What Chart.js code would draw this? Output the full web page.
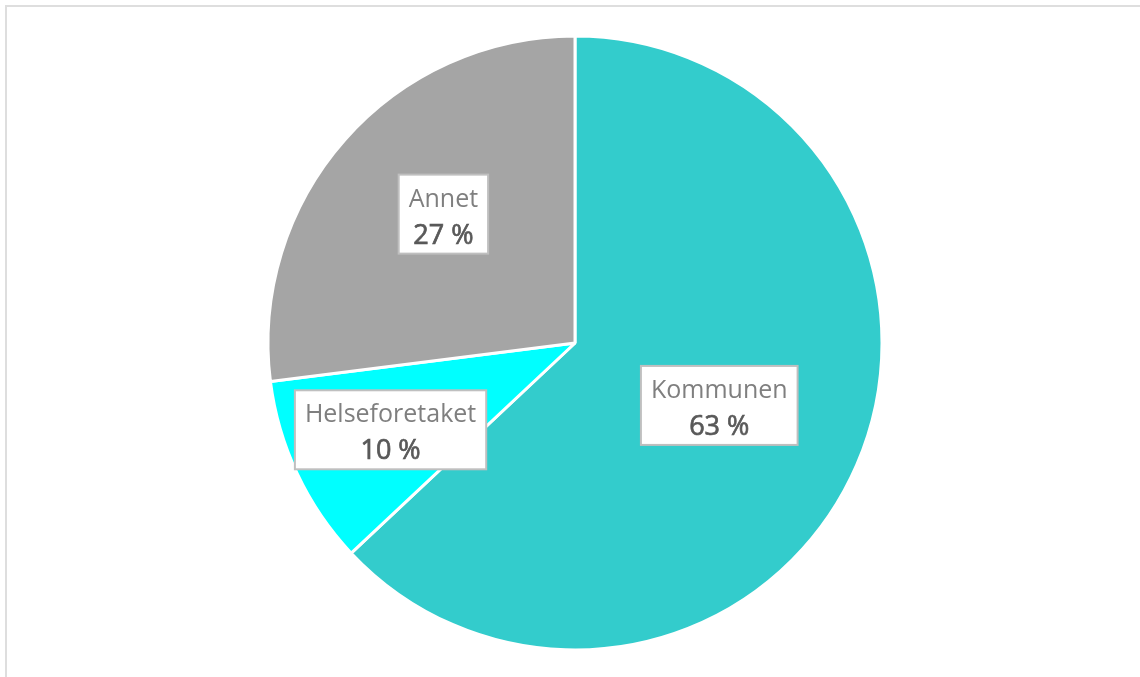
<!DOCTYPE html>
<html>
<head>
<meta charset="utf-8">
<script src="https://cdn.jsdelivr.net/npm/chart.js@4"></script>
<style>
  html, body { margin: 0; padding: 0; background: #fff; overflow: hidden; }
  #wrap { position: relative; width: 1140px; height: 677px; }
  #frame {
    position: absolute; left: 5px; top: 5px; right: -10px; bottom: -10px;
    border-left: 2px solid #dedede; border-top: 2px solid #dedede;
  }
  canvas { position: absolute; left: 0; top: 0; }
</style>
</head>
<body>
<div id="wrap">
  <div id="frame"></div>
  <canvas id="pie" width="1140" height="677"></canvas>
</div>
<script>
// Data (andel i prosent)
const categories = ["Kommunen", "Helseforetaket", "Annet"];
const shares = [63, 10, 27];
const sliceColors = ["#33CCCC", "#00FFFF", "#A5A5A5"];

// label box placement: fraction of radius + small angle nudge (degrees)
const labelRadius = [0.512, 0.664, 0.600];
const labelNudge = [0, 0, 3];

// Boxed data labels like in Excel
const boxLabels = {
  id: "boxLabels",
  afterDatasetsDraw(chart) {
    const ctx = chart.ctx;
    const meta = chart.getDatasetMeta(0);
    const nameFont = "25px 'Open Sans'";
    const valueFont = "27px 'Open Sans'";
    meta.data.forEach((arc, i) => {
      const mid = (arc.startAngle + arc.endAngle) / 2 + labelNudge[i] * Math.PI / 180;
      const r = arc.outerRadius * labelRadius[i];
      const cx = arc.x + Math.cos(mid) * r;
      const cy = arc.y + Math.sin(mid) * r;

      const name = categories[i];
      const value = shares[i] + " %";
      ctx.save();
      ctx.font = nameFont;
      const w1 = ctx.measureText(name).width;
      ctx.font = valueFont;
      const w2 = ctx.measureText(value).width;
      const boxW = Math.max(w1, w2) + 20;
      const boxH = 79;

      ctx.fillStyle = "#ffffff";
      ctx.strokeStyle = "#bfbfbf";
      ctx.lineWidth = 2;
      ctx.fillRect(cx - boxW / 2, cy - boxH / 2, boxW, boxH);
      ctx.strokeRect(cx - boxW / 2, cy - boxH / 2, boxW, boxH);

      ctx.textAlign = "center";
      ctx.textBaseline = "alphabetic";
      ctx.font = nameFont;
      ctx.fillStyle = "#7f7f7f";
      ctx.fillText(name, cx, cy - 7.5);
      // value a bit heavier, like the original
      ctx.font = valueFont;
      ctx.fillStyle = "#595959";
      ctx.strokeStyle = "#595959";
      ctx.lineWidth = 0.7;
      ctx.fillText(value, cx, cy + 29.5);
      ctx.strokeText(value, cx, cy + 29.5);
      ctx.restore();
    });
  }
};

new Chart(document.getElementById("pie").getContext("2d"), {
  type: "pie",
  data: {
    labels: categories,
    datasets: [{
      data: shares,
      backgroundColor: sliceColors,
      borderColor: "#ffffff",
      borderWidth: 3
    }]
  },
  options: {
    responsive: false,
    animation: false,
    radius: 307,
    layout: { padding: { left: 10, top: 9, right: 0, bottom: 0 } },
    plugins: {
      legend: { display: false },
      tooltip: { enabled: false }
    }
  },
  plugins: [boxLabels]
});
</script>
</body>
</html>
